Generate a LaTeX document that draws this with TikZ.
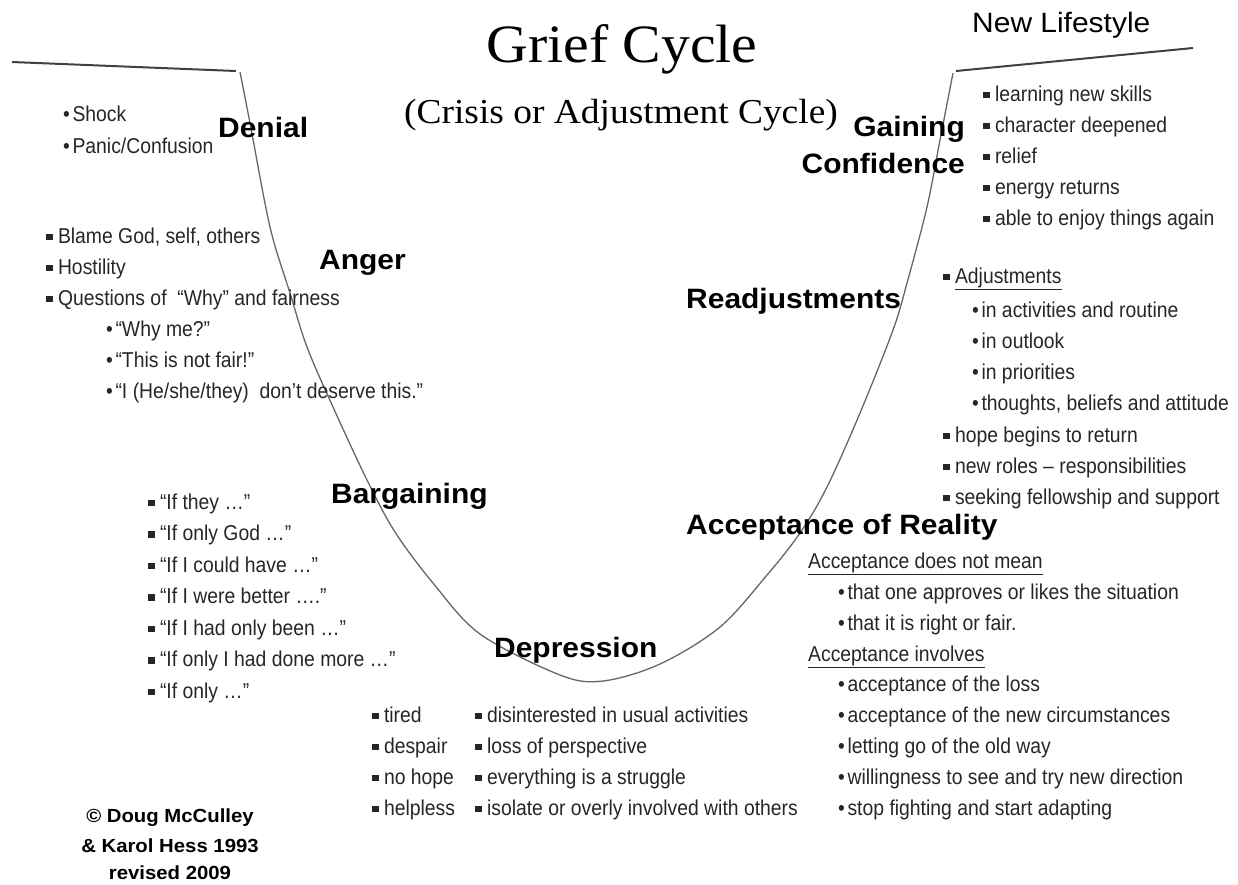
\documentclass[tikz,border=0pt]{standalone}
\usepackage{fontspec}
\setmainfont{Liberation Sans}
\newfontfamily\titlefont[FakeStretch=1.07]{Liberation Serif}
\newfontfamily\labelfont[FakeStretch=1.07]{Liberation Sans}
\newfontfamily\listfont[FakeStretch=0.9]{Liberation Sans}
\usetikzlibrary{positioning}

\newcommand{\sqbul}{\rule[0.13em]{0.31em}{0.31em}\hspace{0.24em}}
\newcommand{\rdbul}{\textbullet\hspace{0.12em}}

\tikzstyle{stage} = [font=\labelfont\bfseries\fontsize{28}{32}\selectfont, inner sep=0pt, anchor=base west]
\tikzstyle{item} = [font=\listfont\fontsize{21.5}{25}\selectfont, text=black!85, inner sep=0pt, anchor=base west]
\tikzstyle{credit} = [font=\labelfont\bfseries\fontsize{19}{22}\selectfont, inner sep=0pt, anchor=base]
\tikzstyle{curve} = [draw=black!60, line width=1.3pt]
\tikzstyle{ground} = [draw=black!75, line width=2pt]

\begin{document}
\begin{tikzpicture}[x=1pt, y=-1pt]
  \useasboundingbox (0,0) rectangle (1238,884);

  % titles
  \node [font=\titlefont\fontsize{54}{60}\selectfont, inner sep=0pt, anchor=base] (title) at (622,62) {Grief Cycle};
  \node [font=\titlefont\fontsize{35}{40}\selectfont, inner sep=0pt, anchor=base] (subtitle) at (621,123) {(Crisis or Adjustment Cycle)};
  \node [font=\labelfont\fontsize{28}{32}\selectfont, inner sep=0pt, anchor=base west] (newlife) at (972,32) {New Lifestyle};

  % the cycle
  \coordinate (leftend) at (12,62);
  \coordinate (lefttop) at (236,71);
  \coordinate (righttop) at (956,71);
  \coordinate (rightend) at (1193,48);
  \draw [ground] (leftend) -- (lefttop);
  \draw [ground] (righttop) -- (rightend);
  \draw [curve] plot [smooth, tension=0.55] coordinates {(240,72) (250,123) (270,227) (290,293) (307,347)
    (333,407) (367,480) (395,532) (433,583) (480,634) (560,675) (603,681) (660,664) (720,627) (767,575)
    (800,533) (827,487) (860,413) (893,330) (907,283) (927,207) (940,140) (953,73)};

  % stages
  \node [stage] (denial) at (218,137) {Denial};
  \node [stage] (anger) at (319,269) {Anger};
  \node [stage] (bargaining) at (331,503) {Bargaining};
  \node [stage] (depression) at (494,657) {Depression};
  \node [stage] (acceptance) at (686,534) {Acceptance of Reality};
  \node [stage] (readjust) at (686,308) {Readjustments};
  \node [stage, anchor=base east] (gaining) at (965,136) {Gaining};
  \node [stage, anchor=base east] (confidence) at (965,173) {Confidence};

  % lists, left side
  \foreach \txt [count=\i] in {Shock, Panic/Confusion}
    \node [item] (shock\i) at (63, 89+32*\i) {\rdbul\txt};
  \foreach \txt [count=\i] in {{Blame God, self, others}, {Hostility}, {Questions of \ “Why” and fairness}}
    \node [item] (blame\i) at (46, 212+31*\i) {\sqbul\txt};
  \foreach \txt [count=\i] in {{“Why me?”}, {“This is not fair!”}, {“I (He/she/they) \ don’t deserve this.”}}
    \node [item] (why\i) at (106, 305+31*\i) {\rdbul\txt};
  \foreach \txt [count=\i] in {{“If they …”}, {“If only God …”}, {“If I could have …”}, {“If I were better ….”},
      {“If I had only been …”}, {“If only I had done more …”}, {“If only …”}}
    \node [item] (ifonly\i) at (148, 477.5+31.5*\i) {\sqbul\txt};

  % lists, bottom
  \foreach \txt [count=\i] in {tired, despair, no hope, helpless}
    \node [item] (mood\i) at (372, 691+31*\i) {\sqbul\txt};
  \foreach \txt [count=\i] in {{disinterested in usual activities}, {loss of perspective}, {everything is a struggle},
      {isolate or overly involved with others}}
    \node [item] (loss\i) at (475, 691+31*\i) {\sqbul\txt};

  % lists, right side
  \foreach \txt [count=\i] in {{learning new skills}, {character deepened}, {relief}, {energy returns},
      {able to enjoy things again}}
    \node [item] (skill\i) at (983, 70+31*\i) {\sqbul\txt};
  \node [item] (adjust) at (943,283) {\sqbul\underline{Adjustments}};
  \foreach \txt [count=\i] in {{in activities and routine}, {in outlook}, {in priorities}, {thoughts, beliefs and attitude}}
    \node [item] (inact\i) at (972, 286+31*\i) {\rdbul\txt};
  \foreach \txt [count=\i] in {{hope begins to return}, {new roles – responsibilities}, {seeking fellowship and support}}
    \node [item] (hope\i) at (943, 411+31*\i) {\sqbul\txt};
  \node [item] (notmean) at (808,568) {\underline{Acceptance does not mean}};
  \foreach \txt [count=\i] in {{that one approves or likes the situation}, {that it is right or fair.}}
    \node [item] (approve\i) at (838, 568+31*\i) {\rdbul\txt};
  \node [item] (involves) at (808,661) {\underline{Acceptance involves}};
  \foreach \txt [count=\i] in {{acceptance of the loss}, {acceptance of the new circumstances}, {letting go of the old way},
      {willingness to see and try new direction}, {stop fighting and start adapting}}
    \node [item] (letgo\i) at (838, 661+30.8*\i) {\rdbul\txt};

  % credit
  \node [credit] (credit1) at (170,822) {© Doug McCulley};
  \node [credit] (credit2) at (170,852) {\& Karol Hess 1993};
  \node [credit] (credit3) at (170,879) {revised 2009};
\end{tikzpicture}
\end{document}
